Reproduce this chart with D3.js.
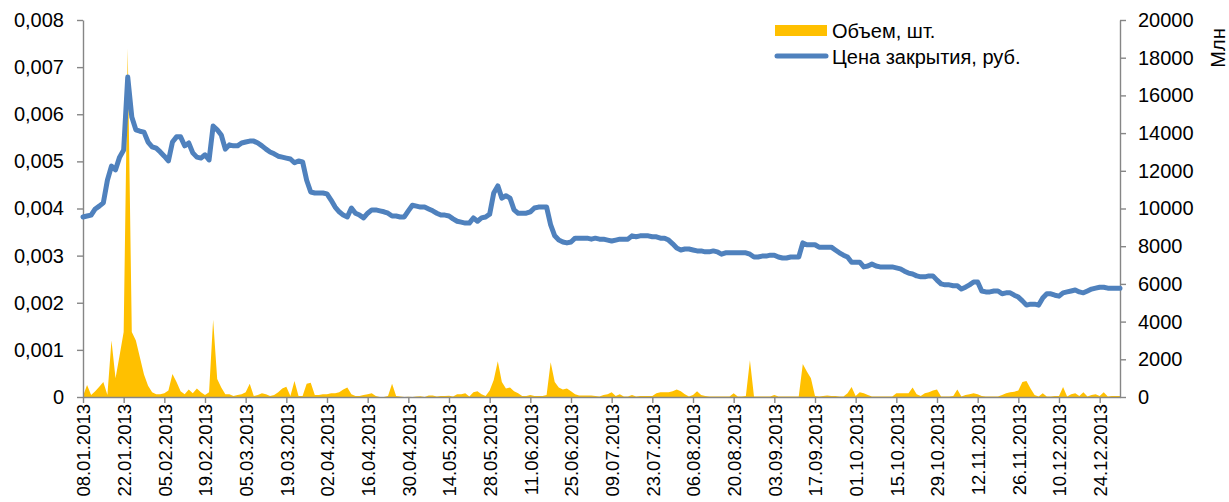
<!DOCTYPE html>
<html>
<head>
<meta charset="utf-8">
<script src="https://cdn.jsdelivr.net/npm/d3@7"></script>
<style>
  body { margin: 0; background: #fff; }
  svg text { font-family: "Liberation Sans", Arial, sans-serif; fill: #000; }
  .axis path, .axis line { stroke: #868686; stroke-width: 1.4; }
</style>
</head>
<body>
<svg id="chart" width="1229" height="502"></svg>
<script>
// tick labels on the category axis (one every 10 trading days)
const dateLabels = [
  '08.01.2013', '22.01.2013', '05.02.2013', '19.02.2013', '05.03.2013', '19.03.2013',
  '02.04.2013', '16.04.2013', '30.04.2013', '14.05.2013', '28.05.2013', '11.06.2013',
  '25.06.2013', '09.07.2013', '23.07.2013', '06.08.2013', '20.08.2013', '03.09.2013',
  '17.09.2013', '01.10.2013', '15.10.2013', '29.10.2013', '12.11.2013', '26.11.2013',
  '10.12.2013', '24.12.2013'
];

// closing price, rub. (left axis)
const price = [
  0.00382, 0.00384, 0.00386, 0.00399, 0.00405, 0.00412, 0.00460, 0.00490, 0.00482, 0.00509,
  0.00524, 0.00679, 0.00594, 0.00567, 0.00564, 0.00562, 0.00541, 0.00531, 0.00528, 0.00520,
  0.00511, 0.00501, 0.00541, 0.00552, 0.00552, 0.00533, 0.00539, 0.00518, 0.00509, 0.00507,
  0.00514, 0.00503, 0.00575, 0.00567, 0.00556, 0.00526, 0.00535, 0.00533, 0.00533, 0.00539,
  0.00541, 0.00543, 0.00543, 0.00539, 0.00533, 0.00526, 0.00520, 0.00516, 0.00511, 0.00509,
  0.00507, 0.00505, 0.00497, 0.00501, 0.00499, 0.00460, 0.00435, 0.00433, 0.00433, 0.00433,
  0.00431, 0.00418, 0.00403, 0.00393, 0.00386, 0.00382, 0.00401, 0.00390, 0.00386, 0.00380,
  0.00390, 0.00397, 0.00397, 0.00395, 0.00393, 0.00390, 0.00384, 0.00384, 0.00382, 0.00382,
  0.00395, 0.00407, 0.00405, 0.00403, 0.00403, 0.00399, 0.00395, 0.00390, 0.00386, 0.00386,
  0.00384, 0.00378, 0.00373, 0.00371, 0.00369, 0.00369, 0.00380, 0.00373, 0.00380, 0.00382,
  0.00388, 0.00433, 0.00448, 0.00422, 0.00427, 0.00422, 0.00397, 0.00390, 0.00390, 0.00390,
  0.00393, 0.00401, 0.00403, 0.00403, 0.00403, 0.00365, 0.00342, 0.00333, 0.00329, 0.00327,
  0.00329, 0.00337, 0.00337, 0.00337, 0.00337, 0.00335, 0.00337, 0.00335, 0.00335, 0.00333,
  0.00331, 0.00333, 0.00335, 0.00335, 0.00335, 0.00342, 0.00340, 0.00342, 0.00342, 0.00342,
  0.00340, 0.00340, 0.00337, 0.00337, 0.00333, 0.00325, 0.00316, 0.00312, 0.00314, 0.00314,
  0.00312, 0.00310, 0.00310, 0.00308, 0.00308, 0.00310, 0.00308, 0.00303, 0.00306, 0.00306,
  0.00306, 0.00306, 0.00306, 0.00306, 0.00303, 0.00297, 0.00297, 0.00299, 0.00299, 0.00301,
  0.00301, 0.00297, 0.00295, 0.00295, 0.00297, 0.00297, 0.00297, 0.00327, 0.00323, 0.00323,
  0.00323, 0.00318, 0.00318, 0.00318, 0.00318, 0.00312, 0.00306, 0.00301, 0.00297, 0.00286,
  0.00286, 0.00286, 0.00276, 0.00278, 0.00282, 0.00278, 0.00276, 0.00276, 0.00276, 0.00276,
  0.00274, 0.00272, 0.00267, 0.00263, 0.00261, 0.00257, 0.00255, 0.00255, 0.00257, 0.00257,
  0.00248, 0.00240, 0.00238, 0.00238, 0.00236, 0.00236, 0.00229, 0.00233, 0.00238, 0.00244,
  0.00244, 0.00225, 0.00223, 0.00223, 0.00225, 0.00225, 0.00219, 0.00221, 0.00221, 0.00216,
  0.00212, 0.00204, 0.00195, 0.00197, 0.00197, 0.00195, 0.00210, 0.00219, 0.00219, 0.00216,
  0.00214, 0.00221, 0.00223, 0.00225, 0.00227, 0.00223, 0.00221, 0.00225, 0.00229, 0.00231,
  0.00233, 0.00233, 0.00231, 0.00231, 0.00231, 0.00231
];

// traded volume, mln shares (right axis)
const volume = [
  50, 640, 100, 300, 550, 800, 100, 3000, 1000, 2200,
  3450, 18500, 3450, 3000, 2100, 1200, 600, 250, 150, 150,
  200, 350, 1220, 800, 300, 150, 400, 200, 450, 250,
  100, 250, 4100, 950, 500, 150, 150, 50, 100, 150,
  250, 700, 50, 100, 200, 150, 50, 100, 250, 450,
  550, 50, 850, 50, 50, 700, 750, 100, 100, 150,
  150, 200, 200, 250, 400, 500, 150, 50, 50, 100,
  150, 200, 50, 0, 0, 50, 700, 50, 20, 0,
  10, 0, 30, 40, 0, 80, 80, 30, 50, 50,
  60, 20, 150, 150, 200, 30, 250, 300, 150, 50,
  350, 900, 1900, 800, 450, 500, 300, 200, 50, 50,
  100, 50, 50, 50, 100, 1850, 800, 500, 400, 450,
  300, 150, 80, 80, 80, 80, 50, 20, 100, 150,
  250, 50, 150, 20, 20, 100, 20, 50, 50, 50,
  50, 200, 250, 250, 250, 300, 400, 300, 150, 30,
  100, 300, 100, 50, 20, 20, 20, 20, 20, 20,
  200, 20, 30, 50, 1950, 20, 20, 20, 30, 20,
  100, 20, 20, 20, 20, 20, 20, 1750, 1350, 1000,
  50, 30, 50, 80, 50, 50, 20, 20, 200, 530,
  50, 250, 200, 100, 30, 20, 20, 20, 20, 20,
  200, 200, 200, 200, 500, 150, 50, 200, 250, 350,
  400, 20, 20, 20, 50, 400, 30, 100, 150, 200,
  150, 50, 20, 20, 20, 20, 100, 200, 250, 280,
  350, 800, 850, 450, 100, 20, 200, 20, 30, 50,
  50, 530, 20, 150, 200, 50, 250, 30, 100, 150,
  50, 250, 30, 50, 50, 50
];

const seriesNames = ['Объем, шт.', 'Цена закрытия, руб.'];
const rightAxisTitle = 'Млн';

const svg = d3.select('#chart');
const plotLeft = 83, plotRight = 1120, plotTop = 20, plotBottom = 397;

const x = d3.scalePoint().domain(d3.range(price.length)).range([plotLeft, plotRight]);
const yL = d3.scaleLinear().domain([0, 0.008]).range([plotBottom, plotTop]);
const yR = d3.scaleLinear().domain([0, 20000]).range([plotBottom, plotTop]);

// volume area
svg.append('path')
  .datum(volume)
  .attr('fill', '#FFC000')
  .attr('d', d3.area().x((d, i) => x(i)).y0(yR(0)).y1(d => yR(d)));

// left axis
const fmtL = d => d === 0 ? '0' : d3.format('.3f')(d).replace('.', ',');
svg.append('g')
  .attr('class', 'axis')
  .attr('transform', `translate(${plotLeft},0)`)
  .call(d3.axisLeft(yL).tickValues(d3.range(0, 0.0081, 0.001)).tickFormat(fmtL).tickSize(6).tickSizeOuter(0).tickPadding(13))
  .call(g => g.selectAll('text').attr('font-size', 20));

// right axis
svg.append('g')
  .attr('class', 'axis')
  .attr('transform', `translate(${plotRight},0)`)
  .call(d3.axisRight(yR).tickValues(d3.range(0, 20001, 2000)).tickFormat(d3.format('d')).tickSize(6).tickSizeOuter(0).tickPadding(12))
  .call(g => g.selectAll('text').attr('font-size', 20));

// category axis — rotated dates, sized so they end just above the bottom edge
svg.append('g')
  .attr('class', 'axis')
  .attr('transform', `translate(0,${plotBottom})`)
  .call(d3.axisBottom(x).tickValues(d3.range(0, price.length, 10)).tickFormat((d, i) => dateLabels[i]).tickSize(6).tickSizeOuter(0))
  .call(g => g.selectAll('text')
    .attr('font-size', 18.5)
    .attr('y', 0)
    .attr('x', -7)
    .attr('dy', '0.36em')
    .attr('transform', 'rotate(-90)')
    .style('text-anchor', 'end'));

// price line
svg.append('path')
  .datum(price)
  .attr('fill', 'none')
  .attr('stroke', '#4F81BD')
  .attr('stroke-width', 5)
  .attr('stroke-linejoin', 'round')
  .attr('stroke-linecap', 'round')
  .attr('d', d3.line().x((d, i) => x(i)).y(d => yL(d)));

// legend
const legend = svg.append('g');
legend.append('rect').attr('x', 775).attr('y', 25).attr('width', 52).attr('height', 11).attr('fill', '#FFC000');
legend.append('line').attr('x1', 777).attr('x2', 826).attr('y1', 56).attr('y2', 56)
  .attr('stroke', '#4F81BD').attr('stroke-width', 5).attr('stroke-linecap', 'round');
legend.selectAll('text.leg')
  .data(seriesNames)
  .join('text')
  .attr('class', 'leg')
  .attr('x', 832)
  .attr('y', (d, i) => i === 0 ? 31 : 57)
  .attr('dy', '0.35em')
  .attr('font-size', 20)
  .text(d => d);

// right axis title
svg.append('text')
  .attr('transform', 'translate(1218,48) rotate(-90)')
  .attr('text-anchor', 'middle')
  .attr('dy', '0.35em')
  .attr('font-size', 20)
  .text(rightAxisTitle);
</script>
</body>
</html>
